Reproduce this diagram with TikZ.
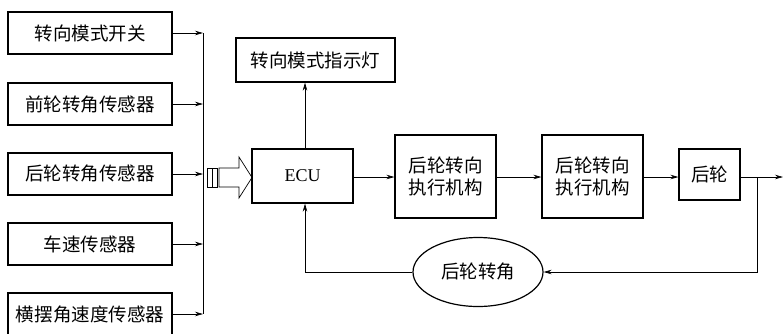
\documentclass[tikz,border=0pt]{standalone}
\usepackage{fontspec}
\setmainfont{Liberation Serif}
\newfontfamily\cjk{Noto Sans CJK SC}
\usetikzlibrary{arrows.meta,shapes.geometric}
\tikzset{
  blk/.style={draw, line width=1.2pt, minimum height=42pt, inner sep=0pt, font=\cjk\fontsize{18.5}{22}\selectfont, align=center},
  sens/.style={blk, minimum width=164pt},
  ln/.style={line width=0.7pt},
  arr/.style={ln, -{Stealth[length=8pt,width=4.5pt]}}
}
\begin{document}
\begin{tikzpicture}[x=1pt, y=-1pt]
\useasboundingbox (0,0) rectangle (783,333);
\begin{scope}
\clip (0,0) rectangle (783,333);
  % sensors on the left
  \node[sens] (s1) at (90,33) {转向模式开关};
  \node[sens] (s2) at (90,104) {前轮转角传感器};
  \node[sens] (s3) at (90,174) {后轮转角传感器};
  \node[sens] (s4) at (90,244) {车速传感器};
  \node[sens] (s5) at (90,314) {横摆角速度传感器};
\end{scope}
  \coordinate (bt) at (203,33);
  \coordinate (bb) at (203,314);
  \draw[ln] (bt)--(bb);
  \foreach \i in {1,...,5}{\draw[arr] (s\i.east)--(s\i.east-|bt);}

  % hollow input arrow into the ECU
  \draw[ln] (207,168) rectangle (212,187);
  \draw[ln] (212,168) rectangle (217,187);
  \draw[ln] (219,168)--(239,168)--(239,157)--(252,177.5)--(239,198)--(239,187)--(219,187)--cycle;

  \node[blk, minimum width=101pt, minimum height=54pt, font=\fontsize{18}{21}\selectfont] (ecu) at (302.5,176) {ECU};
  \node[blk, minimum width=159pt, minimum height=44pt] (lamp) at (315.5,60) {转向模式指示灯};
  \node[blk, minimum width=101pt, minimum height=83pt] (actA) at (445.5,176.5) {后轮转向\\执行机构};
  \node[blk, minimum width=101pt, minimum height=83pt] (actB) at (592.5,176.5) {后轮转向\\执行机构};
  \node[blk, minimum width=61pt, minimum height=51pt] (wheel) at (709.5,174.5) {后轮};
  \node[ellipse, draw, line width=1.2pt, minimum width=130pt, minimum height=69pt, inner sep=0pt, font=\cjk\fontsize{18.5}{22}\selectfont] (ang) at (478,272) {后轮转角};

  \coordinate (up) at (305,0);
  \coordinate (row) at (0,177);
  \coordinate (out) at (783,177);
  \coordinate (br) at (757,177);
  \coordinate (fl) at (305,272);

  \draw[arr] (up|-ecu.north)--(up|-lamp.south);
  \draw[arr] (ecu.east|-row)--(actA.west|-row);
  \draw[arr] (actA.east|-row)--(actB.west|-row);
  \draw[arr] (actB.east|-row)--(wheel.west|-row);
  \draw[arr] (wheel.east|-row)--(out);
  \draw[arr] (br)--(br|-ang.east)--(ang.east);
  \draw[arr] (ang.west)--(fl)--(fl|-ecu.south);
\end{tikzpicture}
\end{document}
